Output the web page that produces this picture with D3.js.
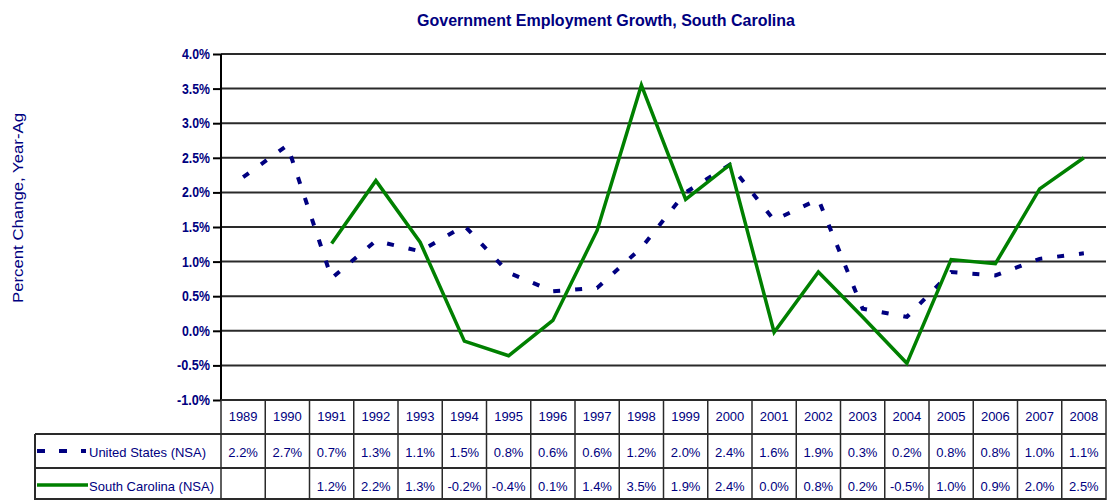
<!DOCTYPE html>
<html>
<head>
<meta charset="utf-8">
<script src="https://cdn.jsdelivr.net/npm/d3@7"></script>
<style>
  html, body { margin: 0; padding: 0; background: #fff; }
  svg { display: block; }
</style>
</head>
<body>
<svg id="chart" width="1107" height="500"></svg>
<script>
const years = ["1989","1990","1991","1992","1993","1994","1995","1996","1997","1998",
               "1999","2000","2001","2002","2003","2004","2005","2006","2007","2008"];
const usValues = [2.22, 2.68, 0.76, 1.30, 1.15, 1.52, 0.84, 0.57, 0.62, 1.20,
                  2.00, 2.40, 1.60, 1.90, 0.32, 0.20, 0.85, 0.80, 1.04, 1.12];
const scValues = [null, null, 1.26, 2.17, 1.28, -0.15, -0.36, 0.15, 1.45, 3.55,
                  1.90, 2.40, -0.02, 0.85, 0.20, -0.47, 1.03, 0.97, 2.05, 2.50];
const usLabels = ["2.2%","2.7%","0.7%","1.3%","1.1%","1.5%","0.8%","0.6%","0.6%","1.2%",
                  "2.0%","2.4%","1.6%","1.9%","0.3%","0.2%","0.8%","0.8%","1.0%","1.1%"];
const scLabels = ["","","1.2%","2.2%","1.3%","-0.2%","-0.4%","0.1%","1.4%","3.5%",
                  "1.9%","2.4%","0.0%","0.8%","0.2%","-0.5%","1.0%","0.9%","2.0%","2.5%"];
const yTicks = [4.0, 3.5, 3.0, 2.5, 2.0, 1.5, 1.0, 0.5, 0.0, -0.5, -1.0];
const seriesNames = ["United States (NSA)", "South Carolina (NSA)"];
const titleText = "Government Employment Growth, South Carolina";
const yTitle = "Percent Change, Year-Ag";

const navy = "#000080", green = "#008000", gridC = "#2a2a2a";
const sans = "'Liberation Sans',Arial,sans-serif";

const svg = d3.select("#chart");
const L = 221, R = 1106, T = 54, B = 400;
const x = d3.scaleBand().domain(years).range([L, R]);
const y = d3.scaleLinear().domain([-1, 4]).range([B, T]);
const cx = d => x(d) + x.bandwidth() / 2;

// Title
svg.append("text").attr("x", 606).attr("y", 26).attr("text-anchor", "middle")
  .attr("font-family", sans).attr("font-weight", "bold").attr("font-size", 17)
  .attr("fill", navy).attr("textLength", 378).attr("lengthAdjust", "spacingAndGlyphs")
  .text(titleText);

// Y title
svg.append("text").attr("transform", "translate(23,208) rotate(-90)")
  .attr("text-anchor", "middle").attr("font-family", sans).attr("font-size", 15)
  .attr("fill", navy).attr("textLength", 190).attr("lengthAdjust", "spacingAndGlyphs")
  .text(yTitle);

// Gridlines
svg.append("g").selectAll("line").data(yTicks).join("line")
  .attr("x1", L).attr("x2", R).attr("y1", d => y(d)).attr("y2", d => y(d))
  .attr("stroke", gridC).attr("stroke-width", 2);

// Y axis
const yAxis = d3.axisLeft(y).tickValues(yTicks).tickSize(8).tickPadding(3)
  .tickFormat(d => d.toFixed(1) + "%");
const ga = svg.append("g").attr("transform", `translate(${L},0)`).call(yAxis);
ga.select(".domain").attr("stroke", "#000").attr("stroke-width", 2).attr("d", `M0,${T}V${B}`);
ga.selectAll(".tick line").attr("stroke", "#000").attr("stroke-width", 2);
ga.selectAll(".tick text").attr("font-family", sans).attr("font-weight", "bold")
  .attr("font-size", 14).attr("fill", navy)
  .attr("textLength", d => d < 0 ? 33 : 28).attr("lengthAdjust", "spacingAndGlyphs");

// Lines
const line = d3.line().defined(d => d.v != null).x(d => cx(d.k)).y(d => y(d.v));
svg.append("path").datum(years.map((k, i) => ({k, v: usValues[i]})))
  .attr("d", line).attr("fill", "none").attr("stroke", navy).attr("stroke-width", 4)
  .attr("stroke-dasharray", "7,15");
svg.append("path").datum(years.map((k, i) => ({k, v: scValues[i]})))
  .attr("d", line).attr("fill", "none").attr("stroke", green).attr("stroke-width", 3.5)
  .attr("stroke-linejoin", "miter");

// Data table
const tbl = svg.append("g");
tbl.append("line").attr("x1", L).attr("x2", R).attr("y1", 400).attr("y2", 400).attr("stroke", gridC).attr("stroke-width", 2);
[434, 468].forEach(yy => tbl.append("line").attr("x1", 35).attr("x2", R).attr("y1", yy).attr("y2", yy)
  .attr("stroke", gridC).attr("stroke-width", 2));
tbl.append("line").attr("x1", 35).attr("x2", R).attr("y1", 499).attr("y2", 499).attr("stroke", gridC).attr("stroke-width", 2);
tbl.append("line").attr("x1", 35).attr("x2", 35).attr("y1", 434).attr("y2", 500).attr("stroke", gridC).attr("stroke-width", 2);
tbl.selectAll("line.v").data(years.concat(["end"])).join("line").attr("class", "v")
  .attr("x1", (d, i) => i < years.length ? x(d) : R).attr("x2", (d, i) => i < years.length ? x(d) : R)
  .attr("y1", 400).attr("y2", 500).attr("stroke", gridC).attr("stroke-width", 1.5);

const cellText = (arr, yy) => tbl.append("g").selectAll("text").data(arr).join("text")
  .attr("x", (d, i) => cx(years[i])).attr("y", yy).attr("text-anchor", "middle")
  .attr("font-family", sans).attr("font-size", 13).attr("fill", navy).text(d => d);
cellText(years, 421);
cellText(usLabels, 457);
cellText(scLabels, 491);

// Legend keys
tbl.append("line").attr("x1", 37).attr("x2", 86).attr("y1", 451).attr("y2", 451)
  .attr("stroke", navy).attr("stroke-width", 4).attr("stroke-dasharray", "8,14");
tbl.append("text").attr("x", 89).attr("y", 457).attr("font-family", sans).attr("font-size", 13)
  .attr("fill", navy).text(seriesNames[0]);
tbl.append("line").attr("x1", 37).attr("x2", 88).attr("y1", 485).attr("y2", 485)
  .attr("stroke", green).attr("stroke-width", 3.5);
tbl.append("text").attr("x", 89).attr("y", 491).attr("font-family", sans).attr("font-size", 13)
  .attr("fill", navy).text(seriesNames[1]);
</script>
</body>
</html>
